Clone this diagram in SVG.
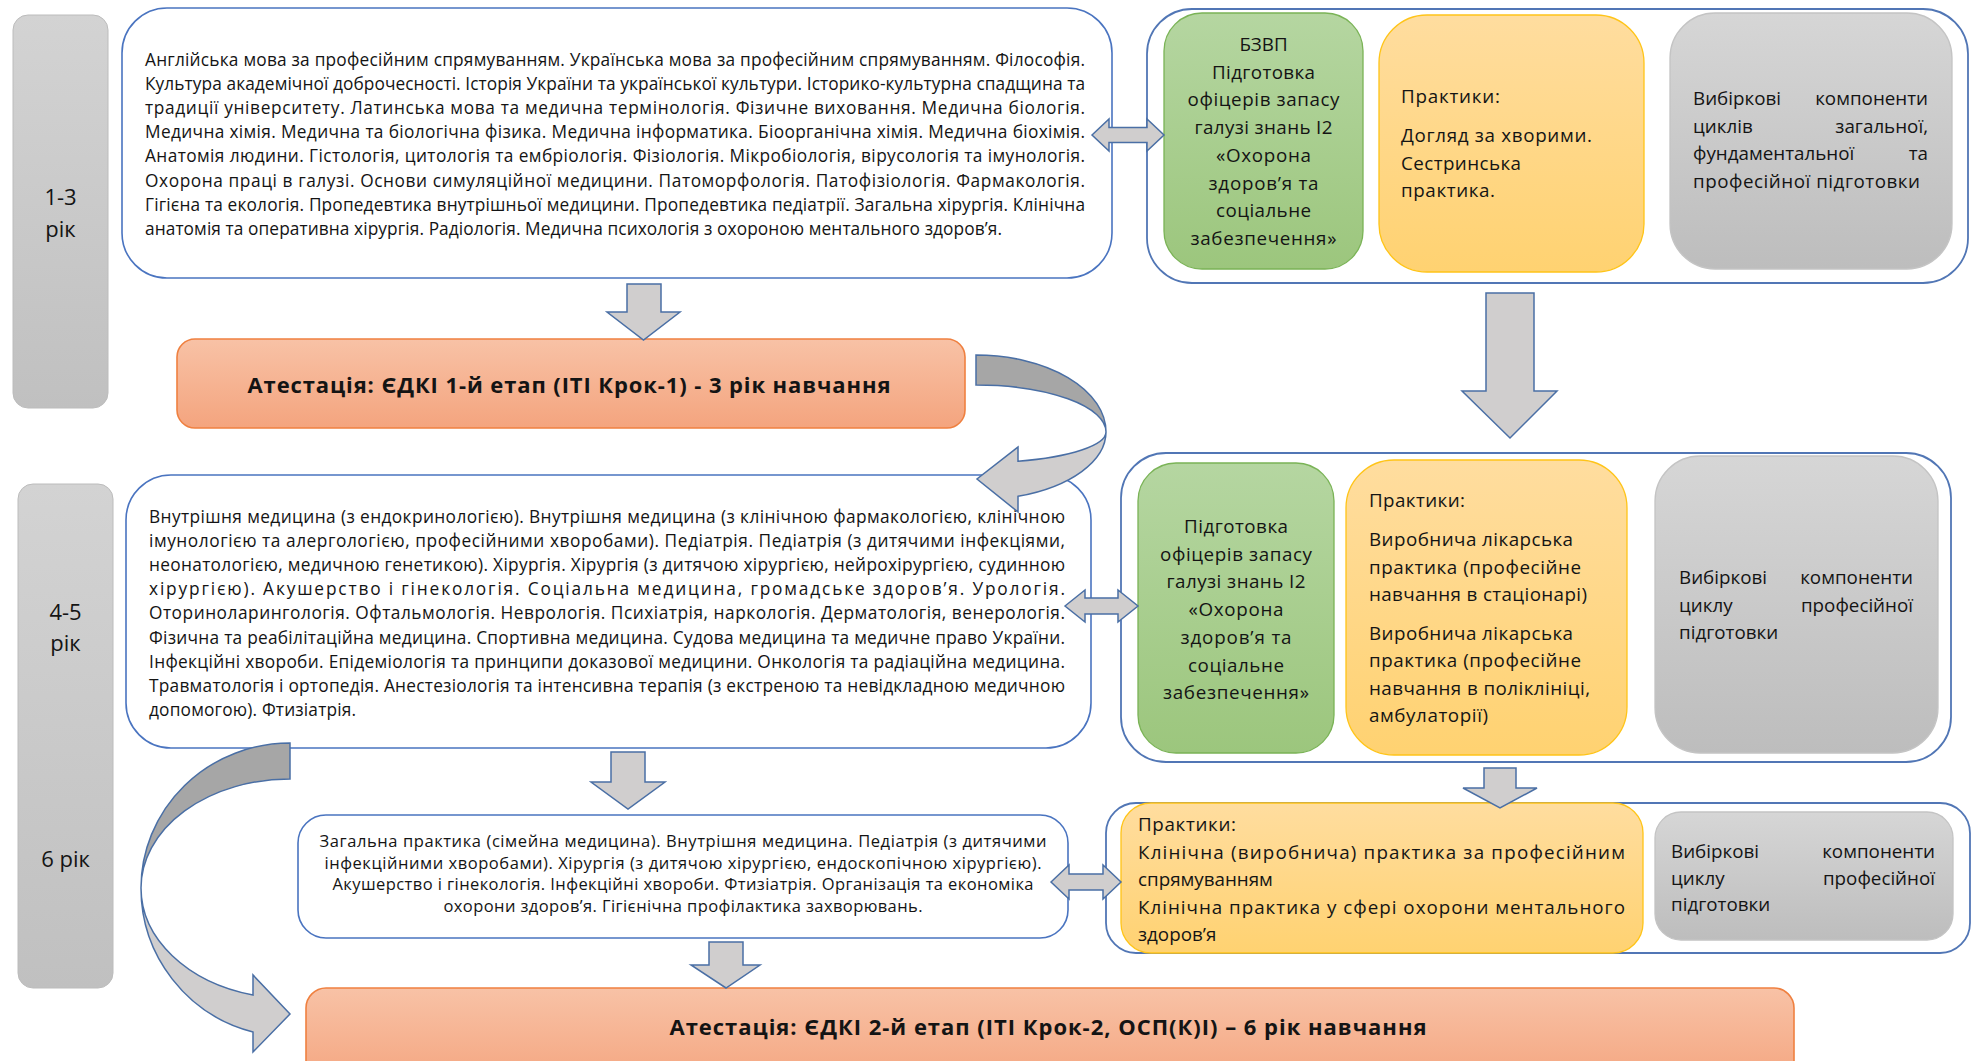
<svg xmlns="http://www.w3.org/2000/svg" width="1975" height="1061" viewBox="0 0 1975 1061">
<defs>
<linearGradient id="gYear" x1="0" y1="0" x2="0" y2="1"><stop offset="0" stop-color="#d3d3d3"/><stop offset="1" stop-color="#c0c0c0"/></linearGradient>
<linearGradient id="gGreen" x1="0" y1="0" x2="0" y2="1"><stop offset="0" stop-color="#b5d6a1"/><stop offset="1" stop-color="#9cc67d"/></linearGradient>
<linearGradient id="gOrange" x1="0" y1="0" x2="0" y2="1"><stop offset="0" stop-color="#ffdd9f"/><stop offset="1" stop-color="#ffd271"/></linearGradient>
<linearGradient id="gGray" x1="0" y1="0" x2="0" y2="1"><stop offset="0" stop-color="#d6d6d6"/><stop offset="1" stop-color="#bdbdbd"/></linearGradient>
<linearGradient id="gAtt" x1="0" y1="0" x2="0" y2="1"><stop offset="0" stop-color="#f8c2a6"/><stop offset="1" stop-color="#f4a47e"/></linearGradient>
<style>
.box{fill:#fff;stroke:#4a74c0;stroke-width:1.6}
.cont{fill:#fff;stroke:#5176b5;stroke-width:1.8}
.year{fill:url(#gYear);stroke:#bcbcbc;stroke-width:1}
.green{fill:url(#gGreen);stroke:#7ab356;stroke-width:1.3}
.orange{fill:url(#gOrange);stroke:#ffc418;stroke-width:1.3}
.gray{fill:url(#gGray);stroke:#c4c4c4;stroke-width:1.3}
.att{fill:url(#gAtt);stroke:#ef8040;stroke-width:1.6}
text{font-family:'Open Sans','Noto Sans',sans-serif;fill:#141414}
.s{font-size:17.3px}
.s3{font-size:16.5px}
.m{font-size:18.8px}
.y{font-size:22px;text-anchor:middle}
.c{text-anchor:middle}
.e{text-anchor:end}
.b{font-size:22px;font-weight:bold;text-anchor:middle}
.arr{fill:#d0cece;stroke:#4a6fa5;stroke-width:1.5}
.dk{fill:#a6a6a6;stroke:#4a6fa5;stroke-width:1.5}
</style>
</defs>

<g id="year-1-3">
<rect class="year" x="13" y="15" width="95" height="393" rx="15"/>
<text class="y" x="60.5" y="205">1-3</text>
<text class="y" x="60.5" y="237">рік</text>
</g>

<g id="subjects-1-3">
<rect class="box" x="122" y="8" width="990" height="270" rx="45"/>
<text class="s" x="145" y="65.5" textLength="940">Англійська мова за професійним спрямуванням. Українська мова за професійним спрямуванням. Філософія.</text>
<text class="s" x="145" y="89.7" textLength="940">Культура академічної доброчесності. Історія України та української культури. Історико-культурна спадщина та</text>
<text class="s" x="145" y="113.9" textLength="940">традиції університету. Латинська мова та медична термінологія. Фізичне виховання. Медична біологія.</text>
<text class="s" x="145" y="138.1" textLength="940">Медична хімія. Медична та біологічна фізика. Медична інформатика. Біоорганічна хімія. Медична біохімія.</text>
<text class="s" x="145" y="162.3" textLength="940">Анатомія людини. Гістологія, цитологія та ембріологія. Фізіологія. Мікробіологія, вірусологія та імунологія.</text>
<text class="s" x="145" y="186.5" textLength="940">Охорона праці в галузі. Основи симуляційної медицини. Патоморфологія. Патофізіологія. Фармакологія.</text>
<text class="s" x="145" y="210.7" textLength="940">Гігієна та екологія. Пропедевтика внутрішньої медицини. Пропедевтика педіатрії. Загальна хірургія. Клінічна</text>
<text class="s" x="145" y="234.9" textLength="857">анатомія та оперативна хірургія. Радіологія. Медична психологія з охороною ментального здоров’я.</text>
</g>

<g id="container-1">
<rect class="cont" x="1147" y="9" width="821" height="274" rx="45"/>
</g>

<g id="bzvp-1">
<rect class="green" x="1164" y="13" width="199" height="256" rx="38"/>
<text class="m c" x="1263.5" y="51">БЗВП</text>
<text class="m c" x="1263.5" y="78.7" textLength="103">Підготовка</text>
<text class="m c" x="1263.5" y="106.4" textLength="152">офіцерів запасу</text>
<text class="m c" x="1263.5" y="134.1" textLength="138">галузі знань І2</text>
<text class="m c" x="1263.5" y="161.8" textLength="95">«Охорона</text>
<text class="m c" x="1263.5" y="189.5" textLength="110">здоров’я та</text>
<text class="m c" x="1263.5" y="217.2" textLength="95">соціальне</text>
<text class="m c" x="1263.5" y="244.9" textLength="146">забезпечення»</text>
</g>

<g id="practice-1">
<rect class="orange" x="1379" y="15" width="265" height="257" rx="48"/>
<text class="m" x="1401" y="103" textLength="99">Практики:</text>
<text class="m" x="1401" y="142" textLength="191">Догляд за хворими.</text>
<text class="m" x="1401" y="169.5" textLength="120">Сестринська</text>
<text class="m" x="1401" y="197" textLength="94">практика.</text>
</g>

<g id="elective-1">
<rect class="gray" x="1670" y="13" width="282" height="256" rx="45"/>
<text class="m" x="1693" y="105">Вибіркові</text>
<text class="m e" x="1928" y="105">компоненти</text>
<text class="m" x="1693" y="132.7">циклів</text>
<text class="m e" x="1928" y="132.7">загальної,</text>
<text class="m" x="1693" y="160.4">фундаментальної</text>
<text class="m e" x="1928" y="160.4">та</text>
<text class="m" x="1693" y="188.1" textLength="227">професійної підготовки</text>
</g>

<g id="attestation-1">
<rect class="att" x="177" y="339" width="788" height="89" rx="18"/>
<text class="b" x="569" y="392.5" textLength="643">Атестація: ЄДКІ 1-й етап (ІТІ Крок-1) - 3 рік навчання</text>
</g>

<g id="year-4-5">
<rect class="year" x="18" y="484" width="95" height="504" rx="15"/>
<text class="y" x="65.5" y="620">4-5</text>
<text class="y" x="65.5" y="651">рік</text>
<text class="y" x="65.5" y="867">6 рік</text>
</g>

<g id="subjects-4-5">
<rect class="box" x="126" y="475" width="965" height="273" rx="45"/>
<text class="s" x="149" y="522.5" textLength="916">Внутрішня медицина (з ендокринологією). Внутрішня медицина (з клінічною фармакологією, клінічною</text>
<text class="s" x="149" y="546.7" textLength="916">імунологією та алергологією, професійними хворобами). Педіатрія. Педіатрія (з дитячими інфекціями,</text>
<text class="s" x="149" y="570.9" textLength="916">неонатологією, медичною генетикою). Хірургія. Хірургія (з дитячою хірургією, нейрохірургією, судинною</text>
<text class="s" x="149" y="595.1" textLength="916">хірургією). Акушерство і гінекологія. Соціальна медицина, громадське здоров’я. Урологія.</text>
<text class="s" x="149" y="619.3" textLength="916">Оториноларингологія. Офтальмологія. Неврологія. Психіатрія, наркологія. Дерматологія, венерологія.</text>
<text class="s" x="149" y="643.5" textLength="916">Фізична та реабілітаційна медицина. Спортивна медицина. Судова медицина та медичне право України.</text>
<text class="s" x="149" y="667.7" textLength="916">Інфекційні хвороби. Епідеміологія та принципи доказової медицини. Онкологія та радіаційна медицина.</text>
<text class="s" x="149" y="691.9" textLength="916">Травматологія і ортопедія. Анестезіологія та інтенсивна терапія (з екстреною та невідкладною медичною</text>
<text class="s" x="149" y="716.1" textLength="207">допомогою). Фтизіатрія.</text>
</g>

<g id="container-2">
<rect class="cont" x="1121" y="453" width="830" height="309" rx="45"/>
</g>

<g id="bzvp-2">
<rect class="green" x="1138" y="463" width="196" height="290" rx="38"/>
<text class="m c" x="1236" y="533" textLength="104">Підготовка</text>
<text class="m c" x="1236" y="560.7" textLength="152">офіцерів запасу</text>
<text class="m c" x="1236" y="588.4" textLength="139">галузі знань І2</text>
<text class="m c" x="1236" y="616.1" textLength="95">«Охорона</text>
<text class="m c" x="1236" y="643.8" textLength="111">здоров’я та</text>
<text class="m c" x="1236" y="671.5" textLength="96">соціальне</text>
<text class="m c" x="1236" y="699.2" textLength="146">забезпечення»</text>
</g>

<g id="practice-2">
<rect class="orange" x="1346" y="460" width="281" height="295" rx="48"/>
<text class="m" x="1369" y="507" textLength="96">Практики:</text>
<text class="m" x="1369" y="546" textLength="204">Виробнича лікарська</text>
<text class="m" x="1369" y="573.5" textLength="212">практика (професійне</text>
<text class="m" x="1369" y="601" textLength="218">навчання в стаціонарі)</text>
<text class="m" x="1369" y="639.5" textLength="204">Виробнича лікарська</text>
<text class="m" x="1369" y="667" textLength="212">практика (професійне</text>
<text class="m" x="1369" y="694.5" textLength="221">навчання в поліклініці,</text>
<text class="m" x="1369" y="722" textLength="119">амбулаторії)</text>
</g>

<g id="elective-2">
<rect class="gray" x="1655" y="456" width="283" height="297" rx="45"/>
<text class="m" x="1679" y="584">Вибіркові</text>
<text class="m e" x="1913" y="584">компоненти</text>
<text class="m" x="1679" y="611.7">циклу</text>
<text class="m e" x="1913" y="611.7">професійної</text>
<text class="m" x="1679" y="639.4">підготовки</text>
</g>

<g id="subjects-6">
<rect class="box" x="298" y="815" width="770" height="123" rx="28"/>
<text class="s3 c" x="683" y="847" textLength="727">Загальна практика (сімейна медицина). Внутрішня медицина. Педіатрія (з дитячими</text>
<text class="s3 c" x="683" y="868.5" textLength="717">інфекційними хворобами). Хірургія (з дитячою хірургією, ендоскопічною хірургією).</text>
<text class="s3 c" x="683" y="890" textLength="701">Акушерство і гінекологія. Інфекційні хвороби. Фтизіатрія. Організація та економіка</text>
<text class="s3 c" x="683" y="911.5" textLength="479">охорони здоров’я. Гігієнічна профілактика захворювань.</text>
</g>

<g id="container-3">
<rect class="cont" x="1106" y="803" width="864" height="150" rx="30"/>
</g>

<g id="practice-3">
<rect class="orange" x="1121" y="803" width="522" height="150" rx="30"/>
<text class="m" x="1138" y="831" textLength="98">Практики:</text>
<text class="m" x="1138" y="858.5" textLength="487">Клінічна (виробнича) практика за професійним</text>
<text class="m" x="1138" y="886">спрямуванням</text>
<text class="m" x="1138" y="913.5" textLength="487">Клінічна практика у сфері охорони ментального</text>
<text class="m" x="1138" y="941">здоров’я</text>
</g>

<g id="elective-3">
<rect class="gray" x="1655" y="812" width="298" height="128" rx="26"/>
<text class="m" x="1671" y="858">Вибіркові</text>
<text class="m e" x="1935" y="858">компоненти</text>
<text class="m" x="1671" y="884.5">циклу</text>
<text class="m e" x="1935" y="884.5">професійної</text>
<text class="m" x="1671" y="911">підготовки</text>
</g>

<g id="attestation-2">
<rect class="att" x="306" y="988" width="1488" height="100" rx="20"/>
<text class="b" x="1048" y="1034.5" textLength="757">Атестація: ЄДКІ 2-й етап (ІТІ Крок-2, ОСП(К)І) – 6 рік навчання</text>
</g>

<g id="connectors">
<path class="arr" d="M1092,135 L1109,119 L1109,127.5 L1147,127.5 L1147,119 L1164,135 L1147,151 L1147,142.5 L1109,142.5 L1109,151 Z"/>
<path class="arr" d="M627,284 L661,284 L661,312 L680,312 L643.5,340 L607,312 L627,312 Z"/>
<path class="arr" d="M1486,293 L1534,293 L1534,391 L1557,391 L1510,438 L1462,391 L1486,391 Z"/>
<path class="dk" d="M976,355 A130,77 0 0 1 1106,432 A130,47 0 0 0 976,385 Z"/>
<path class="arr" d="M1106,432 A130,68 0 0 1 1018,496.3 L1018,512 L977,479 L1018,447 L1018,461.3 A130,31 0 0 0 1106,432 Z"/>
<path class="arr" d="M1065,606 L1085,590 L1085,598 L1118,598 L1118,590 L1138,606 L1118,622 L1118,614 L1085,614 L1085,622 Z"/>
<path class="arr" d="M611,752 L645,752 L645,782 L665,782 L628,809 L591,782 L611,782 Z"/>
<path class="arr" d="M1484,768 L1516,768 L1516,788 L1537,788 L1500,808 L1463,788 L1484,788 Z"/>
<path class="arr" d="M1051,882 L1069,865 L1069,874 L1103,874 L1103,865 L1121,882 L1103,899 L1103,890 L1069,890 L1069,899 Z"/>
<path class="arr" d="M709,942 L743,942 L743,965 L760,965 L726,988 L691,965 L709,965 Z"/>
<path class="dk" d="M290,743 A149,145 0 0 0 141,888 A149,109 0 0 1 290,779 Z"/>
<path class="arr" d="M141,888 A149,148.6 0 0 0 253,1032 L253,1052 L290,1014 L253,975 L253,995 A149,110.4 0 0 1 141,888 Z"/>
</g>
</svg>
